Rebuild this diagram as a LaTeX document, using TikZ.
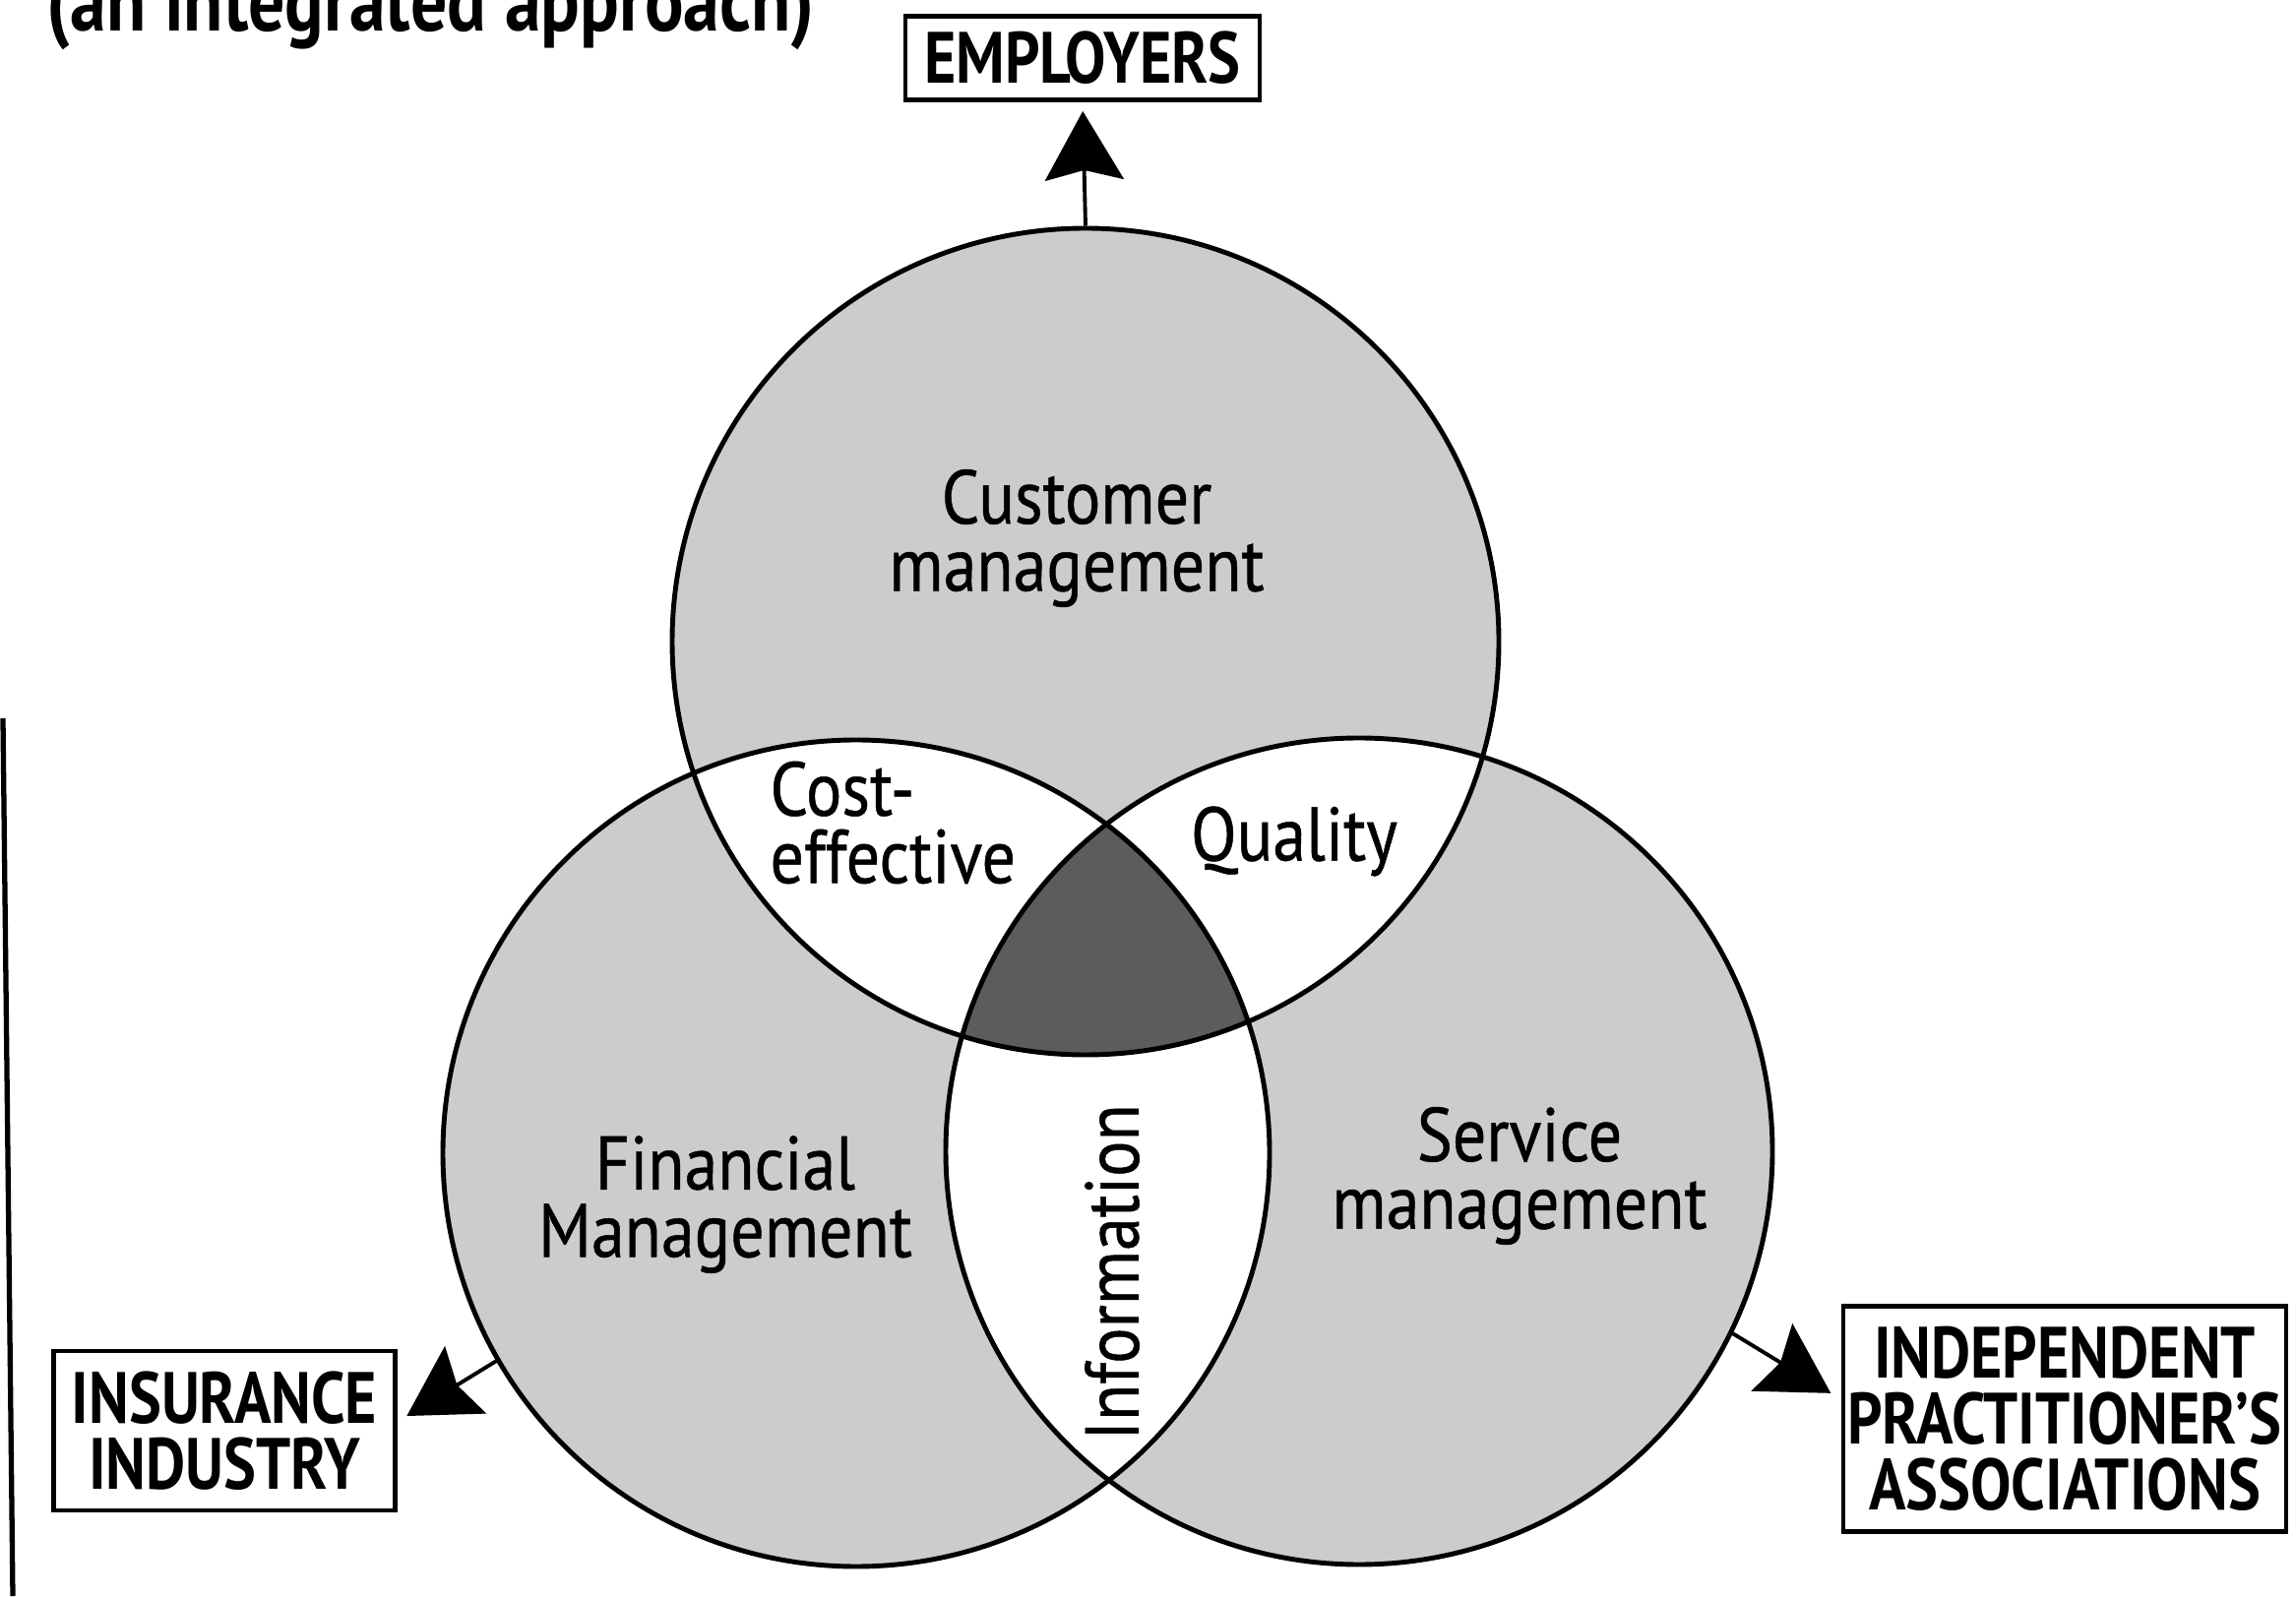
\documentclass[tikz,border=0pt]{standalone}
\usepackage{fontspec}
\setmainfont{PT Sans}
\newfontfamily\condfont[FakeStretch=0.84]{PT Sans}
\newfontfamily\areafont[FakeStretch=0.88,FakeBold=0.6]{PT Sans}
\usetikzlibrary{arrows.meta,positioning}

\begin{document}
\begin{tikzpicture}
          [line width=1.4pt,
           ring/.style={circle,draw,minimum size=8.4cm,inner sep=0pt},
           party/.style={draw,font=\condfont\bfseries\fontsize{21}{19}\selectfont,align=center,inner sep=0pt},
           area/.style={font=\areafont\fontsize{22}{19.5}\selectfont,align=center,inner sep=0pt},
           flow/.style={-{Stealth[length=7mm,width=8mm,inset=1mm]},line width=1.1pt}]
          \useasboundingbox (0,0) rectangle (23.33,16.22);

          \coordinate (pc) at (11.03,9.70);
          \coordinate (pf) at (8.70,4.50);
          \coordinate (ps) at (13.81,4.52);

          % dotted screen of the three rings, white pairwise overlaps, dark core
          \fill[black!20] (pc) circle (4.2) (pf) circle (4.2) (ps) circle (4.2);
          \begin{scope}
            \clip (pc) circle (4.2);
            \fill[white] (pf) circle (4.2) (ps) circle (4.2);
          \end{scope}
          \begin{scope}
            \clip (pf) circle (4.2);
            \fill[white] (ps) circle (4.2);
          \end{scope}
          \begin{scope}
            \clip (pc) circle (4.2);
            \clip (pf) circle (4.2);
            \fill[black!64] (ps) circle (4.2);
          \end{scope}

          \node[ring] (cust) at (pc) {};
          \node[ring] (fin) at (pf) {};
          \node[ring] (serv) at (ps) {};

          \node[area] (custtxt) at (10.94,10.75) {Customer\\management};
          \node[area,align=left,anchor=west] (costtxt) at (7.80,7.86) {Cost-\\effective};
          \node[area] (qualtxt) at (13.15,7.67) {Quality};
          \node[area] (fintxt) at (7.37,3.98) {Financial\\Management};
          \node[area] (servtxt) at (15.44,4.27) {Service\\management};
          \node[area,rotate=90] (infotxt) at (11.30,3.29) {Information};

          \node[party,minimum width=3.6cm,minimum height=0.85cm] (emp) at (11.00,15.63) {EMPLOYERS};
          \node[party,minimum width=3.47cm,minimum height=1.62cm] (ins) at (2.28,1.68) {INSURANCE\\INDUSTRY};
          \node[party,minimum width=4.5cm,minimum height=2.29cm] (prac) at (20.98,1.80) {INDEPENDENT\\PRACTITIONER’S\\ASSOCIATIONS};

          \node[anchor=base west,inner sep=0pt,font=\condfont\bfseries\fontsize{25}{25}\selectfont] (title) at (0.45,15.90) {(an integrated approach)};

          \draw[flow,shorten >=0.9mm] (cust.north) -- (emp.south);
          \draw[flow,shorten >=1.1mm] (fin.210) -- (ins.3);
          \draw[flow,shorten >=1.2mm] (serv.334) -- (prac.175);

          \draw[line width=1.5pt] (0.03,8.92) -- (0.13,0);
        \end{tikzpicture}
\end{document}
